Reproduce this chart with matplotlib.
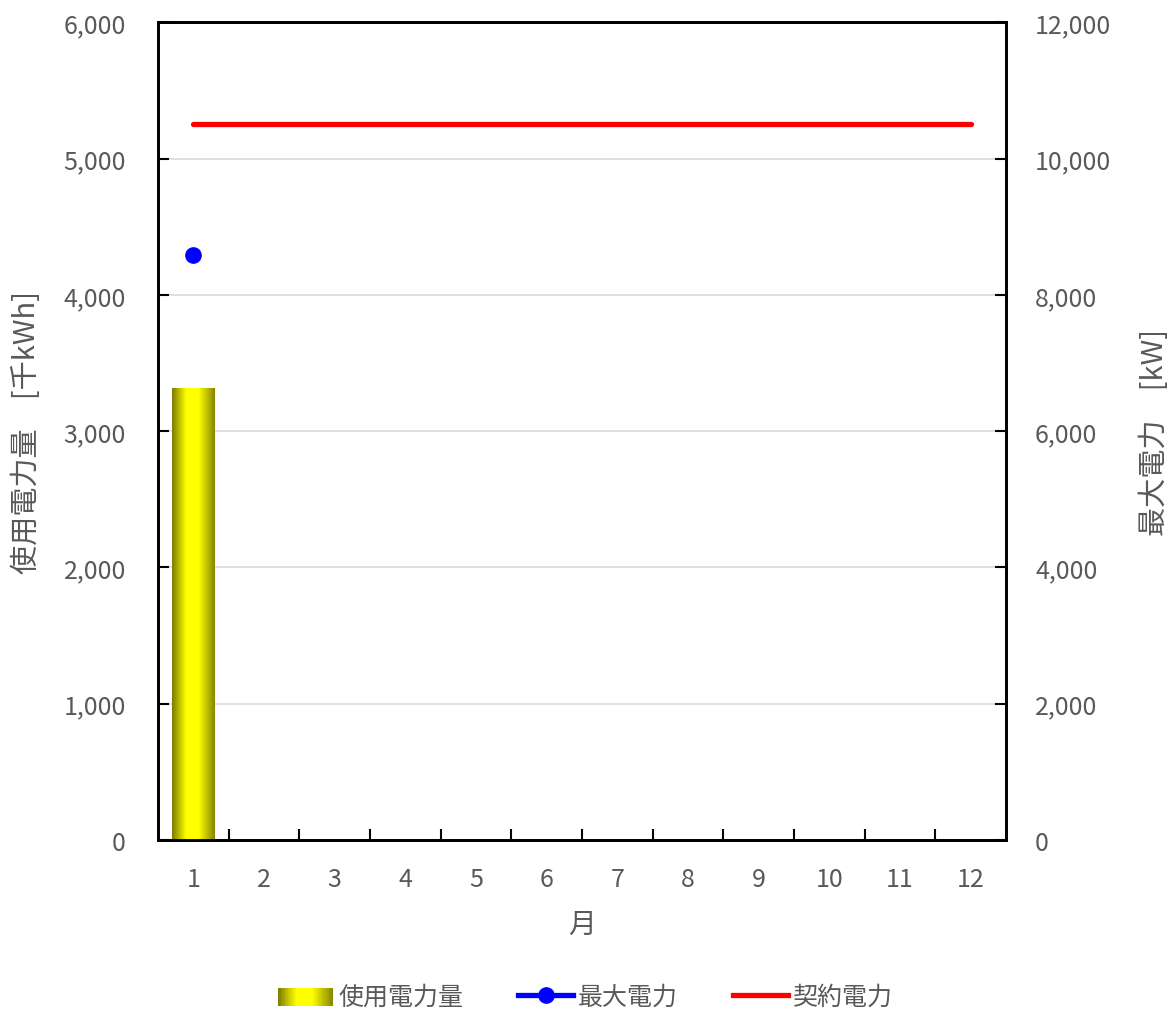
import numpy as np
import matplotlib
matplotlib.use("Agg")
import matplotlib.pyplot as plt
from matplotlib.colors import LinearSegmentedColormap
from matplotlib.patches import Rectangle
from matplotlib.lines import Line2D
from matplotlib.legend_handler import HandlerBase
from matplotlib.ticker import FuncFormatter, FixedLocator

plt.rcParams['font.family'] = ['Noto Sans CJK JP', 'DejaVu Sans']

# ---- data ----
months = [1, 2, 3, 4, 5, 6, 7, 8, 9, 10, 11, 12]
month_labels = ["1", "2", "3", "4", "5", "6", "7", "8", "9", "10", "11", "12"]
usage = [3320, np.nan, np.nan, np.nan, np.nan, np.nan, np.nan, np.nan, np.nan, np.nan, np.nan, np.nan]
max_power = [8580, np.nan, np.nan, np.nan, np.nan, np.nan, np.nan, np.nan, np.nan, np.nan, np.nan, np.nan]
contract_power = [10500] * 12
series_names = ["使用電力量", "最大電力", "契約電力"]

TEXT = "#595959"
grad = LinearSegmentedColormap.from_list(
    "olive_yellow",
    [(0.0, "#7a7a00"), (0.33, "#ffff00"), (0.62, "#ffff00"), (1.0, "#858500")])

fig = plt.figure(figsize=(11.71, 10.12), dpi=100)
ax = fig.add_axes([0.1349, 0.169, 0.7241, 0.808])
ax2 = ax.twinx()

ax.set_xlim(0.5, 12.5)
ax.set_ylim(0, 6000)
ax2.set_ylim(0, 12000)

# bars with horizontal gradient
bars = ax.bar(months, usage, width=0.6, color="none", edgecolor="none", zorder=3)
gimg = np.linspace(0, 1, 256).reshape(1, -1)
for b in bars:
    h = b.get_height()
    if not np.isfinite(h) or h <= 0:
        continue
    x0, w = b.get_x(), b.get_width()
    im = ax.imshow(gimg, cmap=grad, aspect="auto", extent=(x0, x0 + w, 0, h),
                   zorder=3, interpolation="bilinear")
    im.set_clip_path(b)
ax.set_xlim(0.5, 12.5)
ax.set_ylim(0, 6000)

# lines on secondary axis
ax2.plot(months, contract_power, color="#ff0000", lw=3.8, solid_capstyle="round", zorder=4)
ax2.plot(months, max_power, color="#0000ff", lw=3.8, marker="o", markersize=11, zorder=5)

# grid
ax.set_yticks(np.arange(0, 6001, 1000))
ax.yaxis.grid(True, color="#d9d9d9", lw=1.2)
ax.set_axisbelow(True)
ax2.set_yticks(np.arange(0, 12001, 2000))

fmt = FuncFormatter(lambda v, p: f"{int(v):,}")
ax.yaxis.set_major_formatter(fmt)
ax2.yaxis.set_major_formatter(fmt)

# x ticks: labels at centres, tick marks at boundaries
ax.set_xticks(months)
ax.set_xticklabels(month_labels)
ax.xaxis.set_minor_locator(FixedLocator(np.arange(1.5, 12, 1)))
ax.tick_params(axis="x", which="major", length=0, pad=19, labelsize=18, labelcolor=TEXT)
ax.tick_params(axis="x", which="minor", direction="in", length=8, width=1.5, color="black")
ax.tick_params(axis="y", direction="in", length=8, width=1.5, pad=23, labelsize=18, labelcolor=TEXT)
ax2.tick_params(axis="y", direction="in", length=8, width=1.5, pad=21, labelsize=18, labelcolor=TEXT)

for a in (ax, ax2):
    for s in a.spines.values():
        s.set_linewidth(2)
        s.set_color("black")

ax.set_xlabel("月", fontsize=20, color=TEXT, labelpad=12)
ax.set_ylabel("使用電力量　[千kWh]", fontsize=21, color=TEXT, va="center", ha="center")
ax2.set_ylabel("最大電力　[kW]", fontsize=21, color=TEXT, rotation=90, va="center", ha="center")
ax.yaxis.set_label_coords(-0.154, 0.5)
ax2.yaxis.set_label_coords(1.176, 0.5)


class GradientHandler(HandlerBase):
    def create_artists(self, legend, orig_handle, xdescent, ydescent, width, height, fontsize, trans):
        arts = []
        n = 40
        for i in range(n):
            c = grad((i + 0.5) / n)
            r = Rectangle((-xdescent + width * i / n, -ydescent - height * 0.1), width / n + 0.3,
                          height * 1.0, facecolor=c, edgecolor="none", transform=trans)
            arts.append(r)
        return arts


h_bar = Rectangle((0, 0), 1, 1)
h_max = Line2D([], [], color="#0000ff", lw=3.8, marker="o", markersize=11)
h_con = Line2D([], [], color="#ff0000", lw=3.8)
fig.legend([h_bar, h_max, h_con], series_names, loc="center", bbox_to_anchor=(0.5, 0.014),
           ncol=3, frameon=False, fontsize=18, labelcolor=TEXT, handlelength=2.2,
           handletextpad=0.2, columnspacing=2.2, handler_map={h_bar: GradientHandler()})

fig.savefig("out.png", dpi=100)
